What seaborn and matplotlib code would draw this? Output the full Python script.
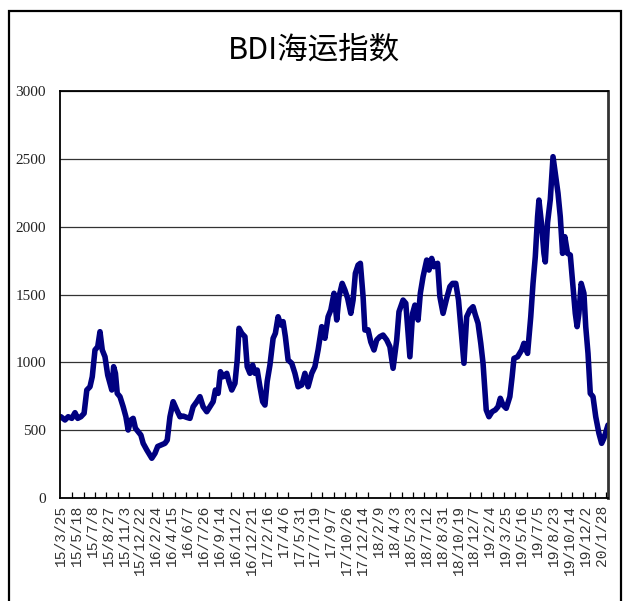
import matplotlib
matplotlib.use("Agg")
import matplotlib.pyplot as plt
import seaborn as sns
import pandas as pd
from matplotlib.patches import Rectangle
from matplotlib.ticker import MultipleLocator, FixedLocator

title = "BDI海运指数"

tick_labels = ["15/3/25", "15/5/18", "15/7/8", "15/8/27", "15/11/3", "15/12/22",
               "16/2/24", "16/4/15", "16/6/7", "16/7/26", "16/9/14", "16/11/2",
               "16/12/21", "17/2/16", "17/4/6", "17/5/31", "17/7/19", "17/9/7",
               "17/10/26", "17/12/14", "18/2/9", "18/4/3", "18/5/23", "18/7/12",
               "18/8/31", "18/10/19", "18/12/7", "19/2/4", "19/3/25", "19/5/16",
               "19/7/5", "19/8/23", "19/10/14", "19/12/2", "20/1/28"]
label_step = 35  # trading days between labels

# trading-day index of each read point
day = [0, 9, 16, 24, 31, 37, 44, 51, 57, 64, 69, 75, 81, 86, 91, 97, 103, 108,
       112, 116, 120, 124, 130, 137, 143, 148, 154, 159, 164, 170, 176, 181, 189,
       200, 207, 213, 229, 234, 240, 247, 255, 262, 269, 277, 284, 291, 299, 306,
       313, 321, 328, 335, 340, 346, 351, 357, 365, 370, 376, 383, 388, 392, 398,
       405, 410, 416, 422, 427, 432, 438, 444, 449, 454, 460, 467, 472, 478, 484,
       489, 494, 500, 508, 515, 522, 530, 537, 544, 552, 559, 566, 574, 581, 588,
       594, 601, 607, 612, 619, 625, 631, 638, 643, 648, 654, 659, 665, 669, 676,
       682, 689, 695, 702, 709, 717, 724, 731, 739, 744, 753, 759, 768, 774, 779,
       786, 791, 797, 805, 810, 816, 821, 829, 834, 841, 849, 856, 862, 869, 875,
       882, 887, 893, 900, 907, 912, 918, 924, 929, 933, 936, 942, 949, 956, 962,
       967, 973, 980, 988, 993, 997, 1005, 1014, 1019, 1027, 1034, 1039, 1044,
       1049, 1052, 1058, 1063, 1066, 1071, 1077, 1083, 1089, 1094, 1099, 1104,
       1109, 1115, 1121, 1127, 1132, 1136, 1140, 1145, 1151, 1155, 1160, 1165,
       1171, 1177, 1184, 1190, 1195, 1204]

bdi = [599, 575, 599, 587, 629, 587, 599, 624, 796, 820, 894, 1091, 1115, 1226,
       1091, 1041, 906, 845, 796, 968, 919, 771, 747, 673, 599, 501, 575, 587,
       514, 489, 464, 403, 354, 293, 329, 380, 403, 427, 599, 710, 649, 599, 604,
       594, 587, 673, 710, 747, 673, 636, 673, 710, 796, 771, 931, 894, 919, 857,
       796, 845, 1017, 1251, 1214, 1189, 968, 919, 980, 919, 943, 820, 710, 685,
       860, 980, 1177, 1214, 1336, 1275, 1300, 1189, 1017, 993, 919, 820, 833,
       919, 820, 919, 968, 1091, 1263, 1177, 1336, 1386, 1509, 1312, 1484, 1582,
       1533, 1472, 1361, 1459, 1656, 1717, 1730, 1484, 1238, 1240, 1150, 1091,
       1165, 1189, 1201, 1165, 1115, 956, 1165, 1373, 1459, 1435, 1041, 1361,
       1422, 1312, 1509, 1631, 1754, 1680, 1766, 1705, 1730, 1484, 1361, 1472,
       1558, 1582, 1582, 1459, 1189, 993, 1336, 1386, 1410, 1350, 1288, 1140,
       993, 796, 649, 599, 636, 649, 673, 735, 685, 661, 747, 894, 1029, 1041,
       1091, 1140, 1066, 1336, 1582, 1779, 2073, 2196, 2010, 1803, 1740, 2030,
       2200, 2516, 2369, 2246, 2073, 1803, 1926, 1803, 1791, 1558, 1361, 1263,
       1361, 1582, 1509, 1263, 1066, 771, 747, 599, 477, 403, 440, 538]

df = pd.DataFrame({"day": day, "BDI": bdi})

sns.set_theme(style="white")
plt.rcParams["font.family"] = ["Noto Sans CJK SC", "DejaVu Sans"]

W, H = 627, 601
fig = plt.figure(figsize=(W / 100, H / 100), dpi=100)
ax = fig.add_axes([60 / W, 1 - 498 / H, (608 - 60) / W, (498 - 91) / H])

sns.lineplot(data=df, x="day", y="BDI", ax=ax, color="#000080", linewidth=4.0,
             solid_joinstyle="round", solid_capstyle="round")

ax.set_xlim(-2, 1204)
ax.set_ylim(0, 3000)
ax.yaxis.set_major_locator(MultipleLocator(500))
ax.grid(axis="y", color="#333333", linewidth=0.9)
ax.grid(axis="x", visible=False)
ax.set_xlabel("")
ax.set_ylabel("")

for s in ax.spines.values():
    s.set_visible(True)
    s.set_color("black")
    s.set_linewidth(1.3)
ax.spines["right"].set_color("#333333")
ax.spines["right"].set_linewidth(2)

ax.xaxis.set_major_locator(FixedLocator([i * label_step for i in range(len(tick_labels))]))
ax.set_xticklabels(tick_labels, rotation=90, family=["Liberation Mono", "DejaVu Sans"],
                   fontsize=10.5, color="#333333", va="top")
ax.xaxis.set_minor_locator(MultipleLocator(25))
ax.tick_params(axis="x", which="major", length=0, pad=5)
ax.tick_params(axis="x", which="minor", bottom=True, direction="in", length=4,
               width=0.9, color="black")
ax.tick_params(axis="y", length=0, pad=10)
for lab in ax.get_yticklabels():
    lab.set_family(["Liberation Serif", "DejaVu Serif"])
    lab.set_fontsize(11)
    lab.set_color("#222222")

fig.text(0.5, 1 - 50 / H, title, ha="center", va="center", fontsize=22, color="black")

fig.patches.append(Rectangle((9 / W, -0.02), (621 - 9) / W, 1.02 - 11 / H,
                             transform=fig.transFigure, fill=False,
                             edgecolor="black", linewidth=1.6))

fig.savefig("out.png", dpi=100)
